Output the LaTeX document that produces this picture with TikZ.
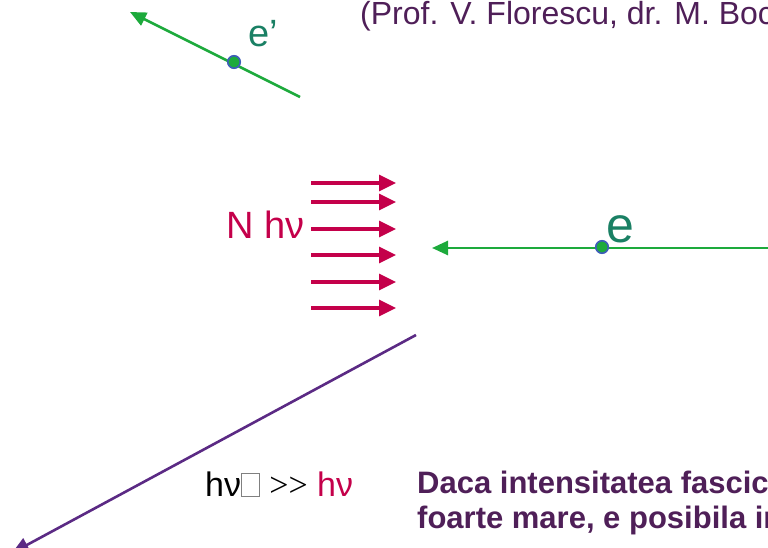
\documentclass[tikz,border=0pt]{standalone}
\usepackage{fontspec}
\setmainfont{Liberation Sans}
\newfontfamily\serifgr{Liberation Serif}
\usetikzlibrary{arrows.meta}
\definecolor{photon}{HTML}{C4004A}
\definecolor{electron}{HTML}{1DAA3C}
\definecolor{elabel}{HTML}{1A8064}
\definecolor{dotrim}{HTML}{3D5DB8}
\definecolor{scatter}{HTML}{5B2A84}
\definecolor{plum}{HTML}{4F1F58}
\newcommand{\tofubox}{{\color{gray}\fboxsep=0pt\fboxrule=0.9pt\fbox{\rule{0pt}{22pt}\hspace{17pt}}}}
\tikzset{
  txt/.style={inner sep=0pt, anchor=base west},
  photonray/.style={draw=photon, line width=3.2pt, -{Triangle[length=17pt, width=16pt]}},
  eline/.style={draw=electron, line width=2.6pt, -{Triangle[length=16pt, width=14pt]}},
  gline/.style={draw=scatter, line width=2.6pt, -{Triangle[length=17pt, width=15pt]}},
  edot/.style={circle, inner sep=0pt, minimum size=12.5pt, fill=electron, draw=dotrim, line width=1.6pt}
}
\begin{document}
\begin{tikzpicture}[x=1pt, y=-1pt]
\useasboundingbox (0,0) rectangle (768,548);
\clip (0,0) rectangle (768,548);

% header credit line
\node[txt, text=plum, font=\fontsize{32}{36}\selectfont] (credit) at (360,25) {(Prof. V. Florescu, dr. M. Bocanu)};

% outgoing electron e'
\coordinate (ep0) at (300,97);
\coordinate (ep1) at (130,12);
\draw[eline] (ep0) -- (ep1);
\node[edot] (epdot) at (234,62) {};
\node[txt, text=elabel, font=\fontsize{38}{42}\selectfont] (eplab) at (248,47) {e’};

% incident laser photons
\foreach \y [count=\i] in {183,202,229,255,282,308}{
  \coordinate (pa\i) at (311,\y);
  \coordinate (pb\i) at (396,\y);
  \draw[photonray] (pa\i) -- (pb\i);
}
\node[txt, text=photon, font=\fontsize{38}{42}\selectfont] (nhv) at (226,238) {N hν};

% incoming electron e
\coordinate (e0) at (780,248);
\coordinate (e1) at (432,248);
\draw[eline] (e0) -- (e1);
\node[edot] (edot) at (602,247) {};
\node[txt, text=elabel, font=\fontsize{50}{54}\selectfont] (elab) at (606,242) {e};

% emitted high-energy photon
\coordinate (g0) at (416,335);
\coordinate (g1) at (12,553);
\draw[gline] (g0) -- (g1);
\node[txt, font=\fontsize{34}{38}\selectfont] (relation) at (205,496)
  {hν\tofubox\ {\serifgr >>} \textcolor{photon}{hν}};

% explanatory text
\node[txt, text=plum, font=\bfseries\fontsize{31}{35}\selectfont] (txt1) at (417,493) {Daca intensitatea fasciculului laser este};
\node[txt, text=plum, font=\bfseries\fontsize{31}{35}\selectfont] (txt2) at (417,528) {foarte mare, e posibila interactia};
\end{tikzpicture}
\end{document}
